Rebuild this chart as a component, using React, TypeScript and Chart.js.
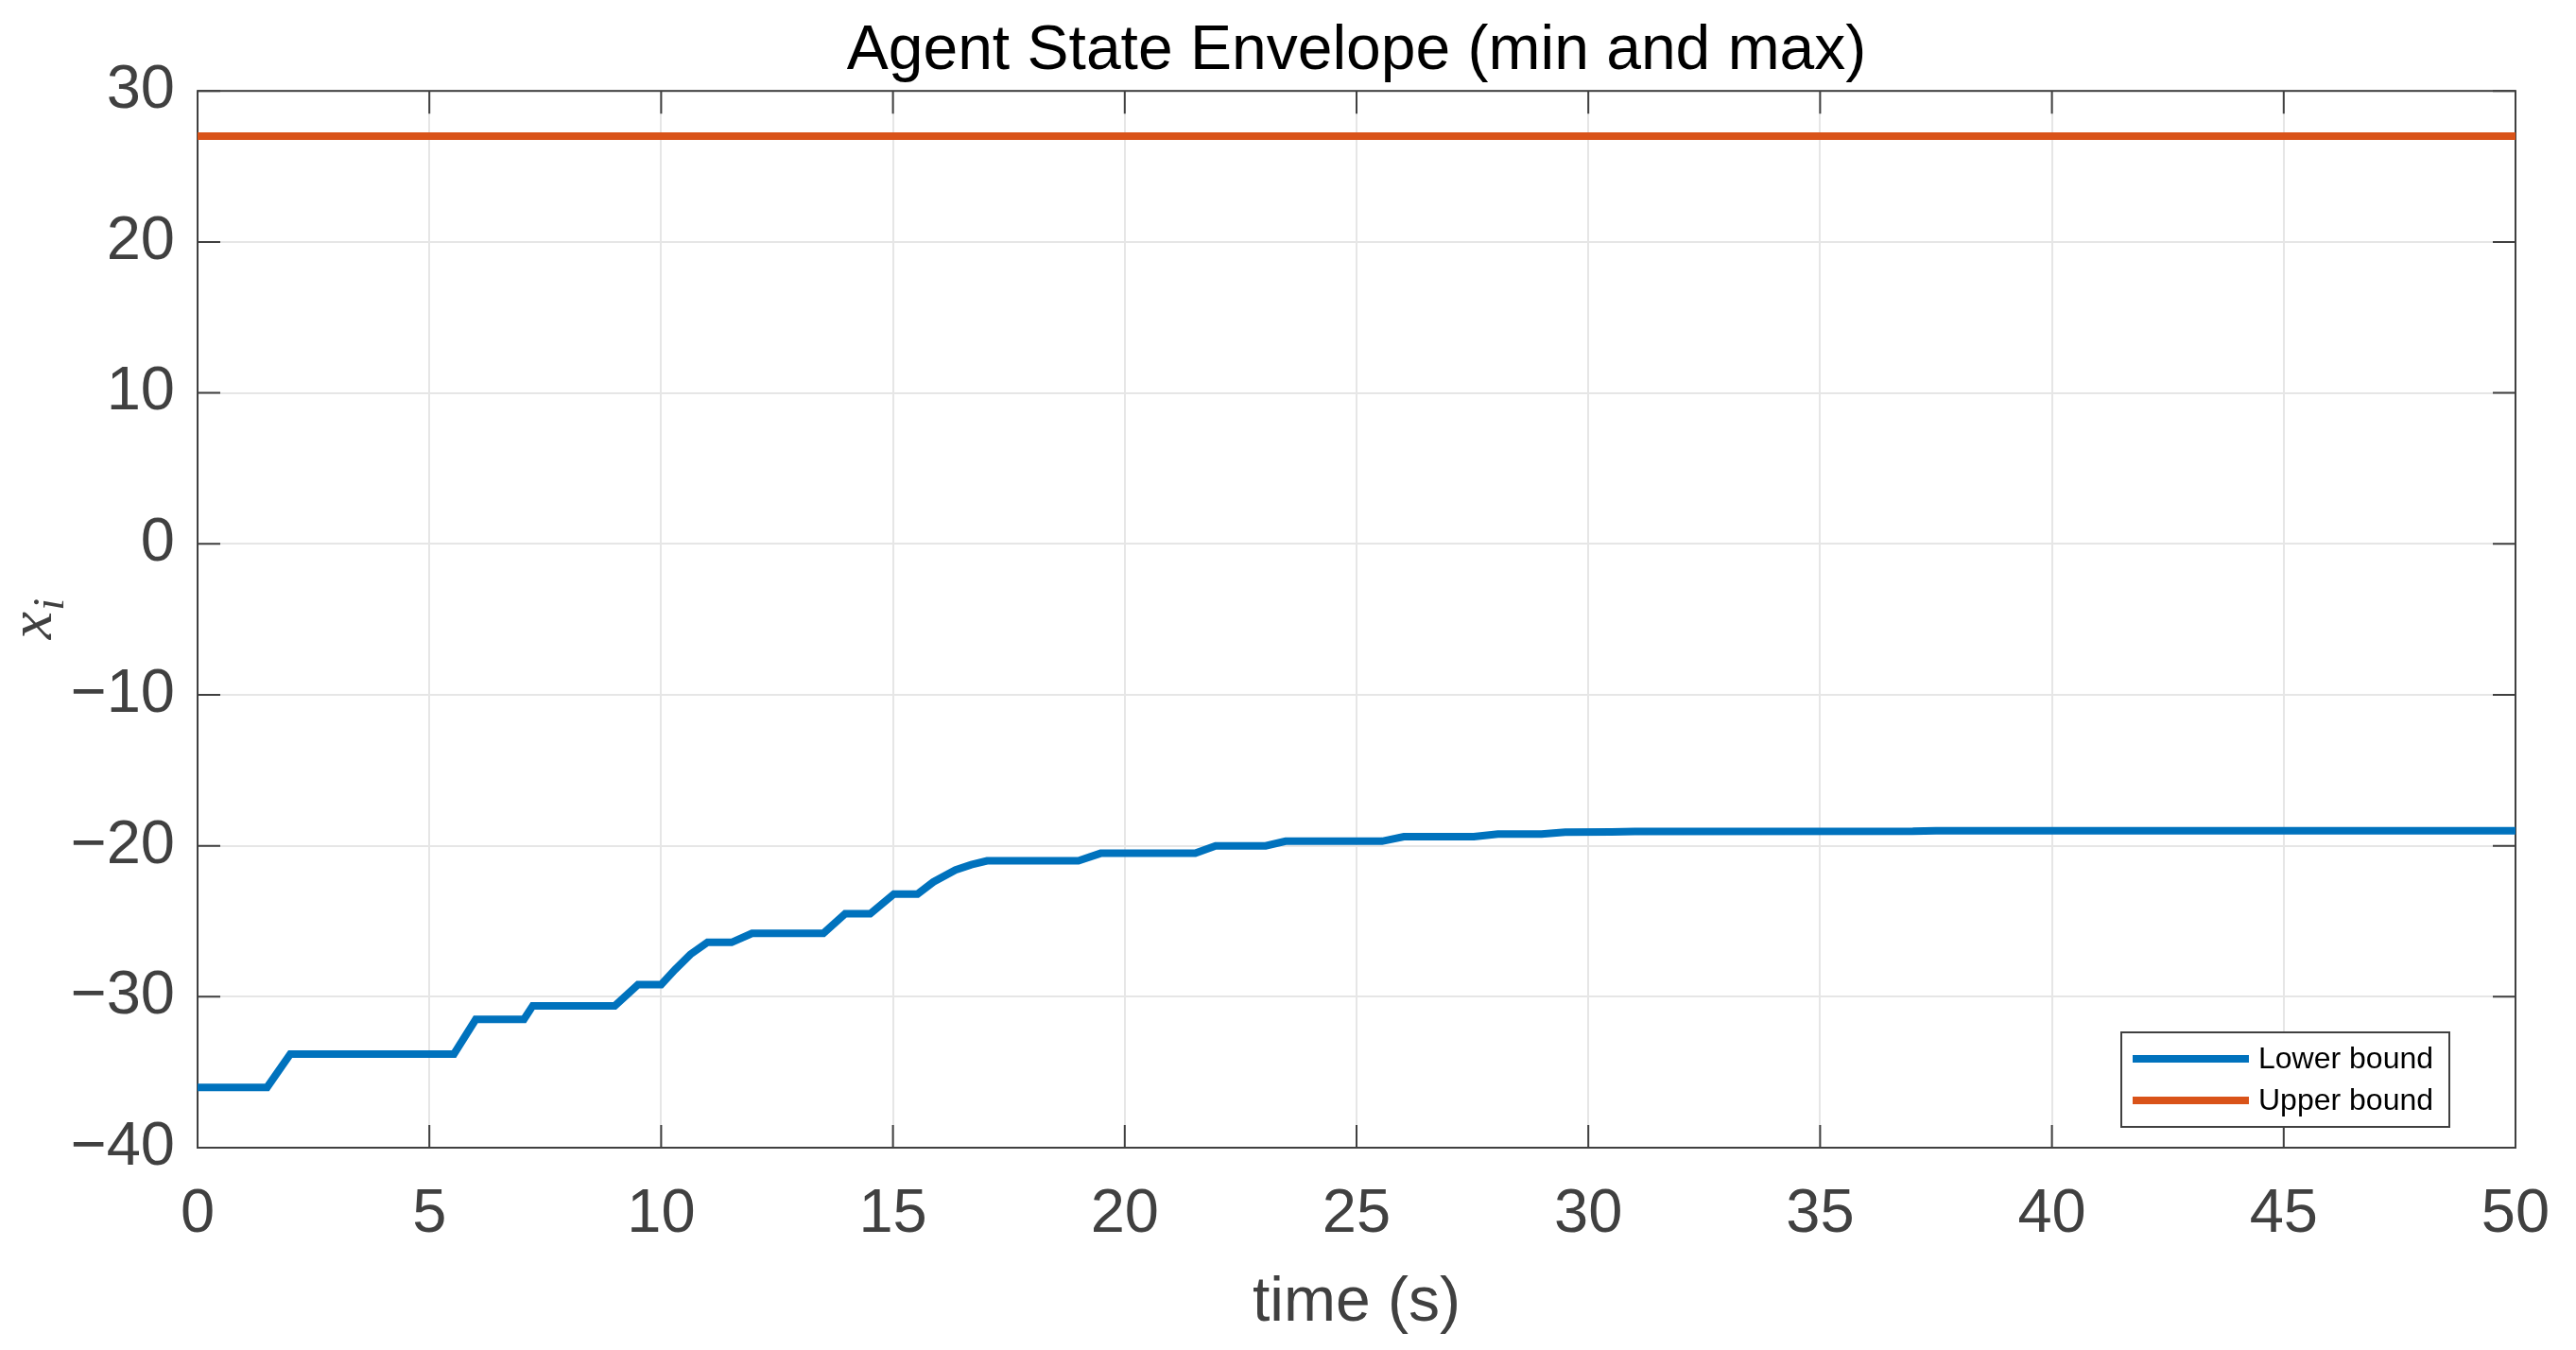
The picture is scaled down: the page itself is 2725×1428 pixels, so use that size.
import { useEffect, useRef } from 'react';
import { Chart, registerables, type Plugin } from 'chart.js';

Chart.register(...registerables);

// Chart text.
const TITLE = 'Agent State Envelope (min and max)';
const X_LABEL = 'time (s)';
const Y_LABEL_BASE = 'x';
const Y_LABEL_SUB = 'i';
const SERIES_LABELS = ['Lower bound', 'Upper bound'];

// Lower bound envelope (breakpoints of the stepped trace).
const LOWER_TIME = [
  0, 1.5, 2.0, 5.53, 6.0, 7.04, 7.23, 9.0, 9.5, 10.0, 10.3, 10.63, 11.0, 11.52, 11.96,
  13.5, 13.97, 14.51, 15.02, 15.53, 15.87, 16.35, 16.69, 17.03, 19.0, 19.48, 21.52, 21.96,
  23.04, 23.47, 25.55, 26.02, 27.53, 28.05, 28.99, 29.5, 30.5, 31.0, 37.0, 37.5, 50,
];
const LOWER_VALUE = [
  -36, -36, -33.8, -33.8, -31.5, -31.5, -30.6, -30.6, -29.2, -29.2, -28.2, -27.2, -26.4, -26.4, -25.8,
  -25.8, -24.5, -24.5, -23.2, -23.2, -22.4, -21.6, -21.25, -21.0, -21.0, -20.5, -20.5, -20.0,
  -20.0, -19.7, -19.7, -19.4, -19.4, -19.22, -19.22, -19.1, -19.08, -19.05, -19.04, -19.0, -19.0,
];

// Upper bound is flat.
const UPPER_TIME = [0, 50];
const UPPER_VALUE = [27, 27];

const X_TICKS = [0, 5, 10, 15, 20, 25, 30, 35, 40, 45, 50];
const Y_TICKS = [-40, -30, -20, -10, 0, 10, 20, 30];

const SERIES_COLORS = ['#0072BD', '#D95319'];
const AXIS_COLOR = '#404040';
const GRID_COLOR = '#e6e6e6';
const FONT = '"Liberation Sans", Arial, Helvetica, sans-serif';
const TICK_LEN = 24;
const LINE_WIDTH = 8;

const fmt = (v: number) => (v < 0 ? '\u2212' + Math.abs(v) : String(v));

// MATLAB-style box with inward ticks on all four sides.
const boxPlugin: Plugin = {
  id: 'matlabBox',
  beforeDatasetsDraw(chart) {
    const { ctx, chartArea: a, scales } = chart;
    ctx.save();
    ctx.strokeStyle = AXIS_COLOR;
    ctx.lineWidth = 2;
    ctx.beginPath();
    X_TICKS.forEach((v) => {
      const px = scales.x.getPixelForValue(v);
      ctx.moveTo(px, a.bottom);
      ctx.lineTo(px, a.bottom - TICK_LEN);
      ctx.moveTo(px, a.top);
      ctx.lineTo(px, a.top + TICK_LEN);
    });
    Y_TICKS.forEach((v) => {
      const py = scales.y.getPixelForValue(v);
      ctx.moveTo(a.left, py);
      ctx.lineTo(a.left + TICK_LEN, py);
      ctx.moveTo(a.right, py);
      ctx.lineTo(a.right - TICK_LEN, py);
    });
    ctx.stroke();
    ctx.strokeRect(a.left, a.top, a.right - a.left, a.bottom - a.top);
    ctx.restore();
  },
};

// y label with a subscript (x_i), rotated.
const yLabelPlugin: Plugin = {
  id: 'yLabelSub',
  afterDraw(chart) {
    const { ctx, chartArea: a } = chart;
    const baseFont = 'italic 66px "Liberation Serif", "DejaVu Serif", serif';
    const subFont = 'italic 46px "Liberation Serif", "DejaVu Serif", serif';
    ctx.save();
    ctx.font = baseFont;
    const wx = ctx.measureText(Y_LABEL_BASE).width;
    ctx.font = subFont;
    const wi = ctx.measureText(Y_LABEL_SUB).width;
    const cy = (a.top + a.bottom) / 2;
    ctx.translate(54, cy + (wx + wi) / 2);
    ctx.rotate(-Math.PI / 2);
    ctx.fillStyle = AXIS_COLOR;
    ctx.textBaseline = 'alphabetic';
    ctx.font = baseFont;
    ctx.fillText(Y_LABEL_BASE, 0, 0);
    ctx.font = subFont;
    ctx.fillText(Y_LABEL_SUB, wx + 1, 13);
    ctx.restore();
  },
};

// Boxed legend in the lower-right of the plot area.
const legendPlugin: Plugin = {
  id: 'insideLegend',
  afterDatasetsDraw(chart) {
    const { ctx, chartArea: a } = chart;
    const w = 347;
    const h = 100;
    const left = a.right - 70 - w;
    const top = a.bottom - 22 - h;
    ctx.save();
    ctx.fillStyle = '#ffffff';
    ctx.fillRect(left, top, w, h);
    ctx.strokeStyle = AXIS_COLOR;
    ctx.lineWidth = 2;
    ctx.strokeRect(left, top, w, h);
    ctx.font = `32px ${FONT}`;
    ctx.textBaseline = 'middle';
    ctx.textAlign = 'left';
    chart.data.datasets.forEach((ds, i) => {
      const cy = top + 28 + i * 44;
      ctx.strokeStyle = ds.borderColor as string;
      ctx.lineWidth = LINE_WIDTH;
      ctx.beginPath();
      ctx.moveTo(left + 12, cy);
      ctx.lineTo(left + 135, cy);
      ctx.stroke();
      ctx.fillStyle = '#000000';
      ctx.fillText(ds.label ?? '', left + 145, cy + 1);
    });
    ctx.restore();
  },
};

export default function App() {
  const canvasRef = useRef<HTMLCanvasElement | null>(null);

  useEffect(() => {
    document.body.style.margin = '0';
    const canvas = canvasRef.current;
    if (!canvas) return undefined;

    const chart = new Chart(canvas, {
      type: 'line',
      data: {
        datasets: [
          {
            label: SERIES_LABELS[0],
            data: LOWER_TIME.map((t, i) => ({ x: t, y: LOWER_VALUE[i] })),
            borderColor: SERIES_COLORS[0],
            borderWidth: LINE_WIDTH,
            pointRadius: 0,
            tension: 0,
            fill: false,
          },
          {
            label: SERIES_LABELS[1],
            data: UPPER_TIME.map((t, i) => ({ x: t, y: UPPER_VALUE[i] })),
            borderColor: SERIES_COLORS[1],
            borderWidth: LINE_WIDTH,
            pointRadius: 0,
            tension: 0,
            fill: false,
          },
        ],
      },
      options: {
        responsive: false,
        devicePixelRatio: 1,
        animation: false,
        events: [],
        layout: { padding: { left: 0, right: 64, top: 0, bottom: 0 } },
        plugins: {
          legend: { display: false },
          tooltip: { enabled: false },
          title: {
            display: true,
            text: TITLE,
            fullSize: false,
            color: '#000000',
            font: { family: FONT, size: 66, weight: 'normal', lineHeight: 1.2 },
            padding: { top: 15, bottom: 2 },
          },
        },
        scales: {
          x: {
            type: 'linear',
            min: 0,
            max: 50,
            afterBuildTicks: (s) => {
              s.ticks = X_TICKS.map((v) => ({ value: v }));
            },
            afterFit: (s) => {
              s.height = 214;
              s.paddingLeft = 0;
              s.paddingRight = 0;
            },
            ticks: {
              color: AXIS_COLOR,
              font: { family: FONT, size: 65, lineHeight: 1.2 },
              padding: 32,
              maxRotation: 0,
              autoSkip: false,
              callback: (v) => fmt(Number(v)),
            },
            grid: { color: GRID_COLOR, lineWidth: 2, drawTicks: false },
            border: { display: false },
            title: {
              display: true,
              text: X_LABEL,
              color: AXIS_COLOR,
              font: { family: FONT, size: 66, lineHeight: 1.2 },
              padding: { top: 0, bottom: 10 },
            },
          },
          y: {
            type: 'linear',
            min: -40,
            max: 30,
            afterBuildTicks: (s) => {
              s.ticks = Y_TICKS.map((v) => ({ value: v }));
            },
            afterFit: (s) => {
              s.width = 209;
              s.paddingTop = 0;
              s.paddingBottom = 0;
            },
            ticks: {
              color: AXIS_COLOR,
              font: { family: FONT, size: 65, lineHeight: 1.2 },
              padding: 24,
              autoSkip: false,
              callback: (v) => fmt(Number(v)),
            },
            grid: { color: GRID_COLOR, lineWidth: 2, drawTicks: false },
            border: { display: false },
          },
        },
      },
      plugins: [boxPlugin, legendPlugin, yLabelPlugin],
    });

    return () => chart.destroy();
  }, []);

  return <canvas ref={canvasRef} width={2725} height={1428} style={{ display: 'block' }} />;
}
